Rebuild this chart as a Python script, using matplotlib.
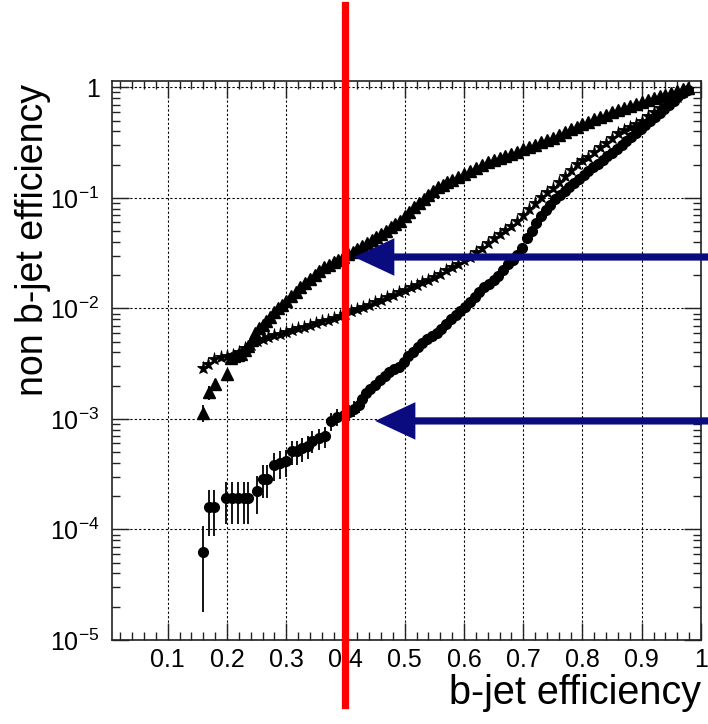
import math
import matplotlib
matplotlib.use("Agg")
import matplotlib.pyplot as plt
from matplotlib.ticker import MultipleLocator, FuncFormatter, LogLocator, NullFormatter, FixedLocator
from matplotlib.transforms import blended_transform_factory
from matplotlib.lines import Line2D

plt.rcParams['font.family'] = ['Liberation Sans', 'DejaVu Sans']
plt.rcParams['mathtext.default'] = 'regular'

# ---------------- data ----------------
tri_x = [0.159, 0.170, 0.180, 0.200, 0.207, 0.212, 0.218, 0.224, 0.230, 0.236, 0.242, 0.248, 0.254,
         0.260, 0.266, 0.272, 0.279, 0.286, 0.293, 0.300, 0.308, 0.316, 0.324, 0.332, 0.340, 0.348,
         0.356, 0.364, 0.372, 0.380, 0.388, 0.396, 0.404, 0.412, 0.420, 0.428, 0.436, 0.444, 0.452,
         0.460, 0.468, 0.476, 0.484, 0.492, 0.500, 0.508, 0.516, 0.524, 0.532, 0.540, 0.548, 0.556,
         0.564, 0.572, 0.580, 0.590, 0.600, 0.610, 0.620, 0.630, 0.640, 0.650, 0.660, 0.670, 0.680,
         0.690, 0.700, 0.710, 0.720, 0.730, 0.740, 0.750, 0.760, 0.770, 0.780, 0.790, 0.800, 0.810,
         0.820, 0.830, 0.840, 0.850, 0.860, 0.870, 0.880, 0.890, 0.900, 0.910, 0.920, 0.930, 0.940,
         0.950, 0.960, 0.970, 0.978]
tri_y = [1.13e-3, 1.74e-3, 2.07e-3, 2.55e-3, 3.55e-3, 3.72e-3, 3.82e-3, 3.89e-3, 4.17e-3, 4.57e-3,
         5.13e-3, 6.03e-3, 6.60e-3, 7.08e-3, 7.62e-3, 8.32e-3, 9.20e-3, 1.00e-2, 1.08e-2, 1.17e-2,
         1.29e-2, 1.42e-2, 1.55e-2, 1.70e-2, 1.85e-2, 2.01e-2, 2.19e-2, 2.37e-2, 2.49e-2, 2.62e-2,
         2.77e-2, 2.92e-2, 3.09e-2, 3.27e-2, 3.46e-2, 3.68e-2, 3.92e-2, 4.18e-2, 4.46e-2, 4.75e-2,
         5.07e-2, 5.42e-2, 5.79e-2, 6.24e-2, 6.84e-2, 7.52e-2, 8.26e-2, 9.04e-2, 9.82e-2, 0.106,
         0.115, 0.125, 0.132, 0.139, 0.146, 0.156, 0.166, 0.176, 0.187, 0.200, 0.211, 0.220, 0.230,
         0.241, 0.252, 0.263, 0.275, 0.289, 0.303, 0.318, 0.333, 0.352, 0.372, 0.394, 0.417, 0.441,
         0.465, 0.489, 0.513, 0.539, 0.566, 0.596, 0.622, 0.650, 0.679, 0.710, 0.741, 0.774, 0.802,
         0.832, 0.861, 0.893, 0.925, 0.959, 0.988]
tri_err = [2.0e-4, 2.4e-4, 2.4e-4, 2.0e-4] + [0.0] * 91

star_x = [0.159, 0.168, 0.178, 0.190, 0.200, 0.210, 0.220, 0.230, 0.240, 0.250, 0.260, 0.270, 0.280,
          0.290, 0.300, 0.310, 0.320, 0.330, 0.340, 0.350, 0.360, 0.370, 0.380, 0.390, 0.400, 0.410,
          0.420, 0.430, 0.440, 0.450, 0.460, 0.470, 0.480, 0.490, 0.500, 0.510, 0.520, 0.530, 0.540,
          0.550, 0.560, 0.570, 0.580, 0.590, 0.600, 0.610, 0.620, 0.630, 0.640, 0.650, 0.660, 0.670,
          0.680, 0.690, 0.700, 0.710, 0.720, 0.730, 0.740, 0.750, 0.760, 0.770, 0.780, 0.790, 0.800,
          0.810, 0.820, 0.830, 0.840, 0.850, 0.860, 0.870, 0.880, 0.890, 0.900, 0.910, 0.920, 0.930,
          0.940, 0.950, 0.960, 0.970, 0.978]
star_y = [2.88e-3, 3.16e-3, 3.47e-3, 3.63e-3, 3.72e-3, 3.80e-3, 4.07e-3, 4.37e-3, 4.68e-3, 5.04e-3,
          5.31e-3, 5.51e-3, 5.71e-3, 5.93e-3, 6.15e-3, 6.38e-3, 6.61e-3, 6.84e-3, 7.10e-3, 7.35e-3,
          7.64e-3, 7.94e-3, 8.26e-3, 8.59e-3, 8.97e-3, 9.40e-3, 9.84e-3, 1.03e-2, 1.08e-2, 1.14e-2,
          1.20e-2, 1.26e-2, 1.33e-2, 1.41e-2, 1.48e-2, 1.55e-2, 1.62e-2, 1.72e-2, 1.82e-2, 1.93e-2,
          2.07e-2, 2.21e-2, 2.37e-2, 2.54e-2, 2.72e-2, 2.95e-2, 3.24e-2, 3.55e-2, 3.94e-2, 4.32e-2,
          4.71e-2, 5.13e-2, 5.60e-2, 6.17e-2, 7.00e-2, 7.94e-2, 9.02e-2, 0.101, 0.112, 0.124, 0.139,
          0.158, 0.178, 0.201, 0.219, 0.237, 0.260, 0.286, 0.316, 0.351, 0.386, 0.412, 0.438, 0.465,
          0.501, 0.550, 0.594, 0.646, 0.700, 0.759, 0.826, 0.902, 0.977]

circ_x = [0.159, 0.170, 0.178, 0.198, 0.208, 0.218, 0.228, 0.236, 0.250, 0.260, 0.268, 0.280, 0.290,
          0.299, 0.310, 0.318, 0.327, 0.336, 0.344, 0.355, 0.366, 0.376, 0.386, 0.397, 0.406, 0.414,
          0.422, 0.428, 0.434, 0.442, 0.450, 0.458, 0.466, 0.474, 0.482, 0.490, 0.498, 0.506, 0.514,
          0.522, 0.530, 0.538, 0.546, 0.554, 0.562, 0.570, 0.578, 0.586, 0.594, 0.602, 0.610, 0.618,
          0.626, 0.634, 0.642, 0.650, 0.658, 0.666, 0.674, 0.682, 0.690, 0.698, 0.706, 0.714, 0.722,
          0.730, 0.738, 0.746, 0.754, 0.762, 0.770, 0.778, 0.786, 0.794, 0.802, 0.810, 0.818, 0.826,
          0.834, 0.842, 0.850, 0.858, 0.866, 0.874, 0.882, 0.890, 0.898, 0.906, 0.914, 0.922, 0.930,
          0.938, 0.946, 0.954, 0.962, 0.970, 0.978]
circ_y = [6.3e-5, 1.59e-4, 1.59e-4, 1.91e-4, 1.91e-4, 1.91e-4, 1.91e-4, 1.91e-4, 2.23e-4, 2.86e-4,
          2.86e-4, 3.82e-4, 3.97e-4, 4.13e-4, 5.09e-4, 5.09e-4, 5.41e-4, 5.72e-4, 6.36e-4, 6.68e-4,
          7.00e-4, 9.54e-4, 1.05e-3, 1.08e-3, 1.15e-3, 1.24e-3, 1.34e-3, 1.52e-3, 1.71e-3, 1.88e-3,
          2.05e-3, 2.25e-3, 2.46e-3, 2.64e-3, 2.84e-3, 2.95e-3, 3.30e-3, 3.68e-3, 4.06e-3, 4.45e-3,
          4.88e-3, 5.28e-3, 5.60e-3, 6.05e-3, 6.55e-3, 7.30e-3, 8.00e-3, 8.80e-3, 9.50e-3, 1.04e-2,
          1.15e-2, 1.27e-2, 1.40e-2, 1.55e-2, 1.67e-2, 1.80e-2, 1.97e-2, 2.25e-2, 2.52e-2, 2.75e-2,
          3.05e-2, 3.55e-2, 4.30e-2, 5.00e-2, 5.90e-2, 6.80e-2, 7.70e-2, 8.70e-2, 9.70e-2, 0.106,
          0.115, 0.125, 0.136, 0.148, 0.161, 0.174, 0.189, 0.204, 0.222, 0.240, 0.257, 0.278, 0.301,
          0.327, 0.355, 0.387, 0.420, 0.458, 0.500, 0.544, 0.590, 0.640, 0.700, 0.760, 0.830, 0.890,
          0.950]
circ_err = [4.5e-5, 7.1e-5, 7.1e-5, 7.8e-5, 7.8e-5, 7.8e-5, 7.8e-5, 7.8e-5, 8.4e-5, 9.5e-5,
            9.5e-5, 1.10e-4, 1.12e-4, 1.15e-4, 1.27e-4, 1.27e-4, 1.31e-4, 1.35e-4, 1.42e-4, 1.46e-4,
            1.49e-4, 1.74e-4, 1.80e-4, 1.85e-4, 1.90e-4, 2.00e-4, 2.00e-4] + [0.0] * 70

x_ticks = [0.1, 0.2, 0.3, 0.4, 0.5, 0.6, 0.7, 0.8, 0.9, 1.0]
y_ticks = [1e-5, 1e-4, 1e-3, 1e-2, 1e-1, 1.0]

cut_eff = 0.4
arrow_tri_tip = (0.4145, 0.0292)
arrow_circ_tip = (0.450, 9.6e-4)

# ---------------- figure ----------------
fig = plt.figure(figsize=(7.08, 7.24), dpi=100)
ax = fig.add_axes([112 / 708, 84 / 724, 589 / 708, 559.3 / 724])
ax.set_yscale('log')

ax.errorbar(circ_x, circ_y, yerr=circ_err, fmt='o', color='black', ms=7,
            elinewidth=1.3, capsize=0, zorder=3)
ax.plot(star_x, star_y, linestyle='none', marker='*', ms=9.5, mfc='black',
        mec='black', mew=0.6, zorder=3)
ax.errorbar(tri_x, tri_y, yerr=tri_err, fmt='^', color='black', ms=8.5,
            elinewidth=1.3, capsize=0, zorder=3)

ax.set_xlim(0.006, 1.0)
ax.set_ylim(1e-5, 1.15)

ax.xaxis.set_major_locator(FixedLocator(x_ticks))
ax.xaxis.set_minor_locator(MultipleLocator(0.02))
ax.xaxis.set_major_formatter(FuncFormatter(lambda v, p: '1' if abs(v - 1) < 1e-9 else '%.1f' % v))
ax.yaxis.set_major_locator(FixedLocator(y_ticks))
ax.yaxis.set_minor_locator(LogLocator(base=10, subs=range(2, 10), numticks=20))
ax.yaxis.set_minor_formatter(NullFormatter())


def yfmt(v, p):
    if abs(v - 1) < 1e-9:
        return '1'
    e = int(round(math.log10(v)))
    return r'$\mathregular{10^{%d}}$' % e


ax.yaxis.set_major_formatter(FuncFormatter(yfmt))

ax.tick_params(which='both', direction='in', top=True, right=True, colors='#222222')
ax.tick_params(which='major', length=12, width=1.0, labelsize=18, labelcolor='black')
ax.tick_params(which='minor', length=6, width=1.0)
ax.tick_params(axis='x', which='major', pad=6)
ax.tick_params(axis='y', which='major', pad=9)
for s in ax.spines.values():
    s.set_linewidth(1.2)
    s.set_color('#222222')

ax.grid(True, which='major', color='black', linestyle=(0, (2, 2)), linewidth=0.8)
ax.set_axisbelow(True)

fig.text(701 / 708, 1 - 704 / 724, 'b-jet efficiency', ha='right', va='baseline', fontsize=28.5)
fig.text(33 / 708, 1 - 84 / 724, 'non b-jet efficiency', ha='center', va='top',
         rotation=90, fontsize=27)

# red cut line
tr = blended_transform_factory(ax.transData, fig.transFigure)
fig.add_artist(Line2D([cut_eff, cut_eff], [1 - 5 / 724, 1 - 705 / 724], transform=tr,
                      color='#ff0000', lw=5.2, zorder=5))

# arrows
for tip in (arrow_tri_tip, arrow_circ_tip):
    ax.annotate('', xy=tip, xycoords='data', xytext=(1.0, tip[1]),
                textcoords=('figure fraction', 'data'),
                arrowprops=dict(arrowstyle='simple,head_length=29,head_width=27,tail_width=5.2',
                                mutation_scale=1, color='#0b0b80', shrinkA=0, shrinkB=0, lw=0),
                annotation_clip=False, zorder=6)

fig.savefig('out.png', dpi=100)
